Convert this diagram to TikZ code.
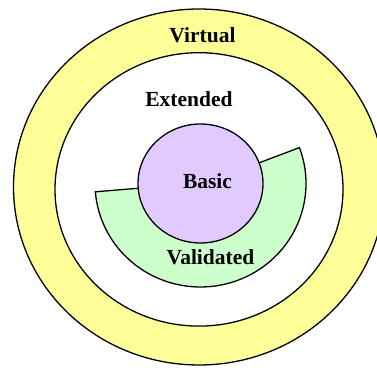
\documentclass[tikz,border=0pt]{standalone}
\usepackage{fontspec}
\setmainfont{Liberation Serif}
\usetikzlibrary{calc}
\definecolor{ringyellow}{HTML}{FFFF99}
\definecolor{basicpurple}{HTML}{E0CAFF}
\definecolor{validgreen}{HTML}{CCFFCC}
\tikzset{
  ring/.style={draw=black, line width=1.3pt},
  label/.style={font=\bfseries\fontsize{21.5}{25}\selectfont, anchor=base, inner sep=0pt}
}
\begin{document}
\begin{tikzpicture}[x=1pt,y=1pt]
  \useasboundingbox (0,0) rectangle (377,367);
  \clip (0,0) rectangle (377,367);
  % outer "Virtual" ring and the white "Extended" area
  \fill[white] (0,0) rectangle (377,367);
  \draw[ring, fill=ringyellow] (199,180) ellipse [x radius=185.5, y radius=178];
  \draw[ring, fill=white] (199,177.6) ellipse [x radius=144, y radius=136.7];
  % "Validated" sector around the core
  \coordinate (core) at (200.5,183.5);
  \draw[ring, fill=validgreen]
    ($(core)+(20.3:62.5 and 59.5)$) -- ($(core)+(20.3:105.5 and 103.5)$)
    arc [start angle=20.3, end angle=-175.4, x radius=105.5, y radius=103.5]
    -- ($(core)+(-175.4:62.5 and 59.5)$) -- cycle;
  % "Basic" core
  \draw[ring, fill=basicpurple] (core) ellipse [x radius=62.5, y radius=59.5];
  % labels
  \node[label] (virtual) at (202.5,324.3) {Virtual};
  \node[label] (extended) at (189,260) {Extended};
  \node[label] (basic) at (207.5,178) {Basic};
  \node[label] (validated) at (210.5,103) {Validated};
\end{tikzpicture}
\end{document}
